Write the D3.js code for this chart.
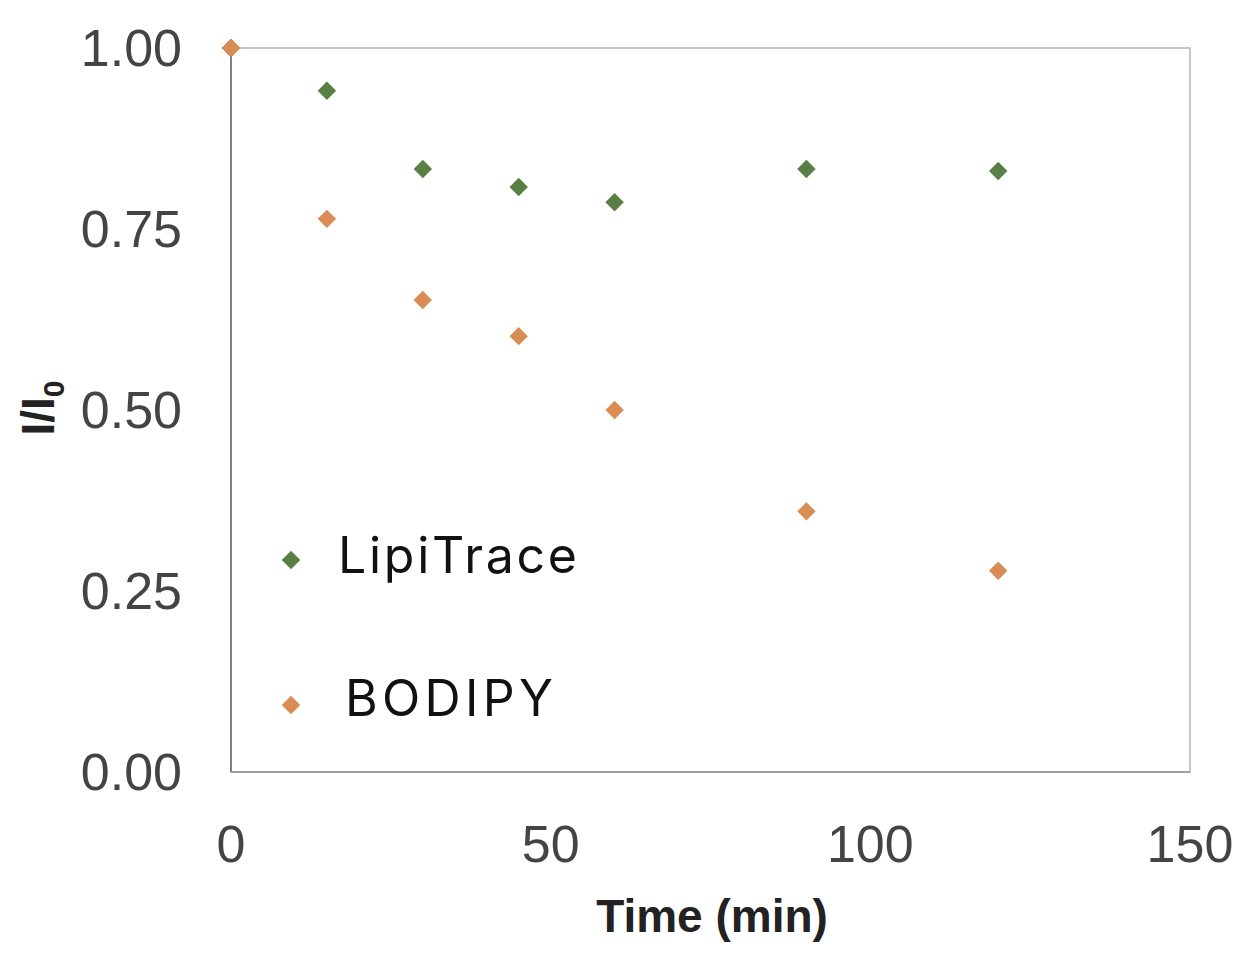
<!DOCTYPE html><html><head><meta charset="utf-8">
<script src="https://cdn.jsdelivr.net/npm/d3@7"></script>
<style>body{margin:0;background:#fff}</style></head><body>
<svg id="c" width="1256" height="956"></svg>
<script>
const times=[0,15,30,45,60,90,120];
const lipiTrace=[1.0,0.941,0.833,0.808,0.787,0.833,0.830];
const bodipy=[1.0,0.764,0.652,0.602,0.500,0.360,0.278];
const xTicks=[0,50,100,150];
const yTicks=[0,0.25,0.5,0.75,1.0];
const svg=d3.select("#c");
const x=d3.scaleLinear().domain([0,150]).range([231,1190]);
const y=d3.scaleLinear().domain([0,1]).range([772,48]);
svg.append("rect").attr("x",231).attr("y",48).attr("width",959).attr("height",724).attr("fill","none").attr("stroke","#c8c8c8").attr("stroke-width",2);
svg.append("line").attr("x1",231).attr("x2",231).attr("y1",48).attr("y2",772).attr("stroke","#808080").attr("stroke-width",2);
svg.append("line").attr("x1",231).attr("x2",1190).attr("y1",772).attr("y2",772).attr("stroke","#a0a0a0").attr("stroke-width",2);
const f="Liberation Sans, Arial, sans-serif";
svg.selectAll(".yt").data(yTicks).enter().append("text").attr("x",182).attr("y",d=>y(d)+18).attr("text-anchor","end")
 .attr("font-family",f).attr("font-size",52).attr("fill","#444").text(d=>d.toFixed(2));
svg.selectAll(".xt").data(xTicks).enter().append("text").attr("x",d=>x(d)).attr("y",862).attr("text-anchor","middle")
 .attr("font-family",f).attr("font-size",52).attr("fill","#444").text(d=>d);
svg.append("text").attr("x",712).attr("y",932).attr("text-anchor","middle").attr("font-family",f).attr("font-size",46).attr("font-weight","bold").attr("fill","#222").text("Time (min)");
const yl=svg.append("text").attr("transform","translate(54,408) rotate(-90)").attr("text-anchor","middle").attr("font-family",f).attr("font-size",46).attr("font-weight","bold").attr("fill","#222");
yl.append("tspan").text("I/I");yl.append("tspan").attr("font-size",30).attr("dy",10).text("0");
const sym=d3.symbol().type(d3.symbolSquare).size(170);
function pts(vals,col){svg.append("g").selectAll("path").data(times).enter().append("path").attr("d",sym)
 .attr("transform",(t,i)=>`translate(${x(t)},${y(vals[i])}) rotate(45)`).attr("fill",col);}
pts(lipiTrace,"#5a7f45");pts(bodipy,"#d98d55");
svg.append("path").attr("d",sym).attr("transform","translate(291,560) rotate(45)").attr("fill","#5a7f45");
svg.append("path").attr("d",sym).attr("transform","translate(291,705) rotate(45)").attr("fill","#d98d55");
svg.append("text").attr("x",338).attr("y",573).attr("font-family","Inter, Noto Sans, sans-serif").attr("font-size",50).attr("textLength",239).attr("fill","#111").text("LipiTrace");
svg.append("text").attr("x",345).attr("y",716).attr("font-family","Inter, Noto Sans, sans-serif").attr("font-size",50).attr("textLength",208).attr("fill","#111").text("BODIPY");
</script></body></html>
